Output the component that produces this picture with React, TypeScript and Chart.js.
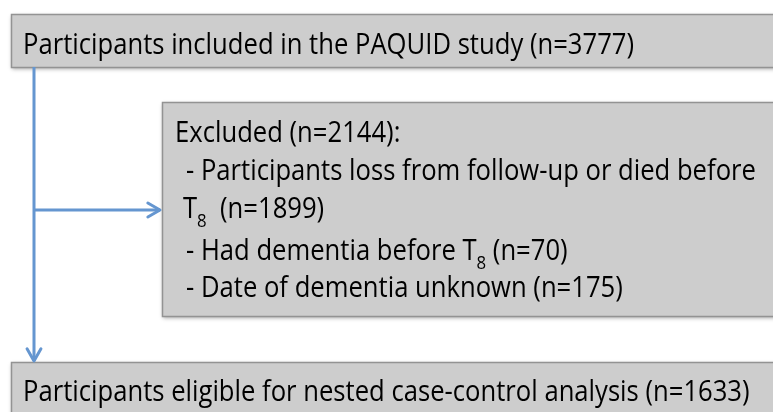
import React, { useEffect, useRef } from "react";
import { Chart, registerables } from "chart.js";

Chart.register(...registerables);

// ---- data ----
const stageLabels = [
  "Participants included in the PAQUID study",
  "Excluded",
  "Participants eligible for nested case-control analysis",
];
const stageCounts = [3777, 2144, 1633];
// "T_8" marks a subscripted T8, "\n" marks the wrap used in the figure
const exclusionReasons = [
  "Participants loss from follow-up or died before\nT_8 ",
  "Had dementia before T_8",
  "Date of dementia unknown",
];
const exclusionCounts = [1899, 70, 175];

// ---- layout (positions / styles) ----
const W = 773;
const H = 412;
const FONT = '"Open Sans", "Noto Sans", sans-serif';
const FONT_SIZE = 29;
const SUB_SIZE = 19;
const REF_WIDTH = 611; // width of the first line in the figure
const BOX_FILL = "#cdcdcd";
const BOX_STROKE = "#939393";
const LINE_COLOR = "#6596d0";

const boxes = [
  { x0: 11, y0: 14, x1: 790, y1: 67 },
  { x0: 162, y0: 102, x1: 790, y1: 316 },
  { x0: 11, y0: 362, x1: 790, y1: 430 },
];

const connectors = [
  [
    { x: 34, y: 67 },
    { x: 34, y: 361 },
  ],
  [
    { x: 34, y: 210 },
    { x: 160, y: 210 },
  ],
];

type Seg = { t: string; sub?: boolean };
type Line = { x: number; y: number; segs: Seg[] };

function parseSegs(s: string): Seg[] {
  const parts = s.split("T_8");
  const segs: Seg[] = [];
  parts.forEach((p, i) => {
    if (i > 0) {
      segs.push({ t: "T" });
      segs.push({ t: "8", sub: true });
    }
    if (p) segs.push({ t: p });
  });
  return segs;
}

function buildLines(): Line[] {
  const lines: Line[] = [];
  lines.push({ x: 23, y: 54, segs: [{ t: `${stageLabels[0]} (n=${stageCounts[0]})` }] });
  lines.push({ x: 175, y: 142, segs: [{ t: `${stageLabels[1]} (n=${stageCounts[1]}):` }] });
  const baselines = [[180, 218], [260], [297]];
  exclusionReasons.forEach((r, i) => {
    const parts = r.split("\n");
    parts.forEach((p, j) => {
      const isLast = j === parts.length - 1;
      const txt = (j === 0 ? "- " : "") + p + (isLast ? ` (n=${exclusionCounts[i]})` : "");
      lines.push({ x: j === 0 ? 186 : 183, y: baselines[i][j], segs: parseSegs(txt) });
    });
  });
  lines.push({ x: 23, y: 401, segs: [{ t: `${stageLabels[2]} (n=${stageCounts[2]})` }] });
  return lines;
}

const flowPlugin = {
  id: "flow",
  beforeDatasetsDraw(chart: any) {
    const ctx = chart.ctx as CanvasRenderingContext2D;
    const xs = chart.scales.x;
    const ys = chart.scales.y;
    boxes.forEach((b) => {
      const x0 = xs.getPixelForValue(b.x0);
      const x1 = xs.getPixelForValue(b.x1);
      const y0 = ys.getPixelForValue(b.y0);
      const y1 = ys.getPixelForValue(b.y1);
      ctx.save();
      ctx.shadowColor = "rgba(0,0,0,0.35)";
      ctx.shadowBlur = 4;
      ctx.shadowOffsetX = 1;
      ctx.shadowOffsetY = 2;
      ctx.fillStyle = BOX_FILL;
      ctx.fillRect(x0, y0, x1 - x0, y1 - y0);
      ctx.restore();
      ctx.save();
      ctx.strokeStyle = BOX_STROKE;
      ctx.lineWidth = 1.5;
      ctx.strokeRect(x0 + 0.5, y0 + 0.5, x1 - x0, y1 - y0);
      ctx.restore();
    });
  },
  afterDatasetsDraw(chart: any) {
    const ctx = chart.ctx as CanvasRenderingContext2D;
    const xs = chart.scales.x;
    const ys = chart.scales.y;
    // arrow heads
    chart.data.datasets.forEach((ds: any) => {
      const pts = ds.data;
      const a = pts[pts.length - 2];
      const b = pts[pts.length - 1];
      const ax = xs.getPixelForValue(a.x);
      const ay = ys.getPixelForValue(a.y);
      const bx = xs.getPixelForValue(b.x);
      const by = ys.getPixelForValue(b.y);
      const ang = Math.atan2(by - ay, bx - ax);
      const len = 14;
      const spread = 0.52;
      ctx.save();
      ctx.strokeStyle = LINE_COLOR;
      ctx.lineWidth = 3;
      ctx.lineCap = "round";
      ctx.lineJoin = "round";
      ctx.beginPath();
      ctx.moveTo(bx - len * Math.cos(ang - spread), by - len * Math.sin(ang - spread));
      ctx.lineTo(bx, by);
      ctx.lineTo(bx - len * Math.cos(ang + spread), by - len * Math.sin(ang + spread));
      ctx.stroke();
      ctx.restore();
    });
    // text
    ctx.save();
    ctx.font = `${FONT_SIZE}px ${FONT}`;
    const ref = ctx.measureText(`${stageLabels[0]} (n=${stageCounts[0]})`).width;
    const sx = REF_WIDTH / ref;
    ctx.fillStyle = "#000";
    ctx.textBaseline = "alphabetic";
    ctx.textAlign = "left";
    buildLines().forEach((ln) => {
      ctx.save();
      ctx.translate(xs.getPixelForValue(ln.x), ys.getPixelForValue(ln.y));
      ctx.scale(sx, 1);
      let cx = 0;
      ln.segs.forEach((s) => {
        if (s.sub) {
          ctx.font = `${SUB_SIZE}px ${FONT}`;
          ctx.fillText(s.t, cx, 9);
          cx += ctx.measureText(s.t).width;
          ctx.font = `${FONT_SIZE}px ${FONT}`;
        } else {
          ctx.fillText(s.t, cx, 0);
          cx += ctx.measureText(s.t).width;
        }
      });
      ctx.restore();
    });
    ctx.restore();
  },
};

export default function App() {
  const ref = useRef<HTMLCanvasElement | null>(null);
  useEffect(() => {
    document.body.style.margin = "0";
    const canvas = ref.current;
    if (!canvas) return;
    const chart = new Chart(canvas, {
      type: "scatter",
      data: {
        datasets: connectors.map((c) => ({
          data: c,
          showLine: true,
          borderColor: LINE_COLOR,
          borderWidth: 3,
          pointRadius: 0,
          fill: false,
        })),
      },
      options: {
        animation: false,
        responsive: false,
        maintainAspectRatio: false,
        events: [],
        layout: { padding: 0 },
        scales: {
          x: { type: "linear", min: 0, max: W, display: false },
          y: { type: "linear", min: 0, max: H, reverse: true, display: false },
        },
        plugins: { legend: { display: false }, tooltip: { enabled: false } },
      },
      plugins: [flowPlugin],
    } as any);
    return () => chart.destroy();
  }, []);
  return (
    <div style={{ width: W, height: H, overflow: "hidden", background: "#fff" }}>
      <canvas ref={ref} width={W} height={H} style={{ display: "block" }} />
    </div>
  );
}
